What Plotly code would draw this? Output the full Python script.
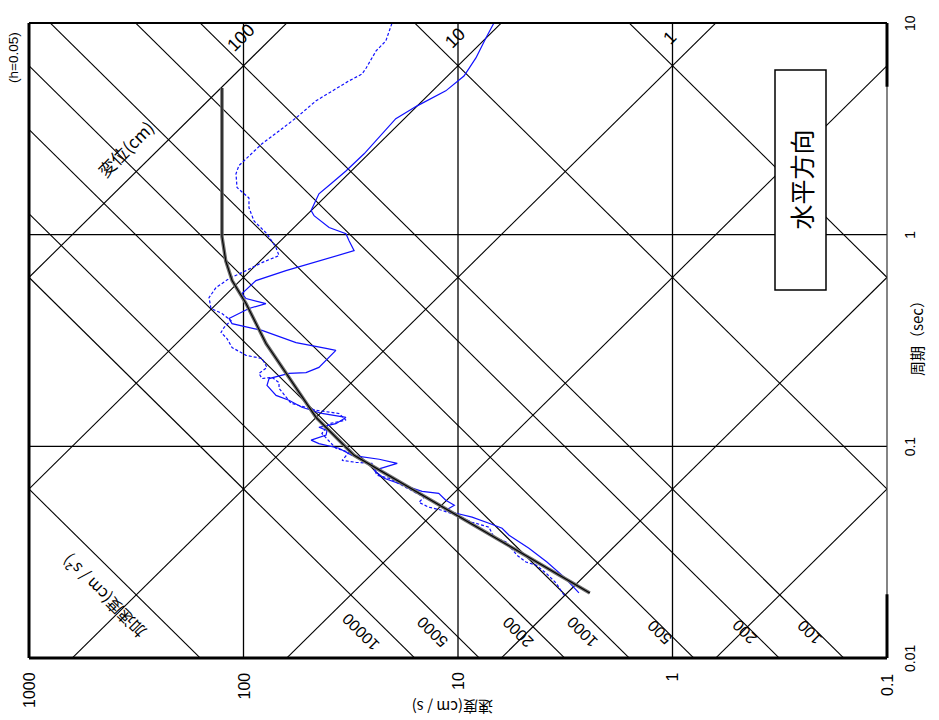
import numpy as np
import plotly.graph_objects as go

# ---------------- data ----------------
velocity_ticks = [1000, 100, 10, 1, 0.1]
velocity_tick_labels = ["1000", "100", "10", "1", "0.1"]
velocity_grid = [100, 10, 1]
period_ticks = [10, 1, 0.1, 0.01]
period_tick_labels = ["10", "1", "0.1", "0.01"]
period_grid = [1, 0.1]

displacement_lines = [0.001, 0.01, 0.1, 1, 10, 100]          # cm
displacement_labels = [100, 10, 1]
acceleration_lines = [1, 10, 100, 200, 500, 1000, 2000, 5000, 10000, 100000]  # cm/s2
acceleration_labels = [10000, 5000, 2000, 1000, 500, 200, 100]

# design spectrum (period s, velocity cm/s)
design_T = [0.0203, 0.0907, 0.137, 0.211, 0.306, 0.473, 0.607, 0.753, 0.98, 4.93]
design_V = [2.43, 30.5, 45.9, 61.4, 78.5, 97.3, 113, 121, 126, 126]

# observed spectrum, solid
solid_T = [0.0203, 0.0241, 0.0284, 0.0330, 0.0380, 0.0410, 0.0433, 0.0463, 0.0483, 0.0499,
           0.0527, 0.0556, 0.0600, 0.0613, 0.0655, 0.0707, 0.0770, 0.0831, 0.0869, 0.0907,
           0.0979, 0.103, 0.107, 0.113, 0.119, 0.123, 0.128, 0.137, 0.143, 0.153,
           0.165, 0.174, 0.194, 0.209, 0.221, 0.223, 0.236, 0.284, 0.290, 0.309,
           0.353, 0.380, 0.402, 0.448, 0.472, 0.499, 0.527, 0.607, 0.676, 0.754,
           0.840, 0.937, 1.01, 1.08, 1.23, 1.30, 1.56, 1.74, 2.00, 2.41,
           2.93, 3.53, 4.06, 4.78, 5.62, 6.84, 8.50, 10.0]
solid_V = [2.73, 3.20, 3.85, 4.67, 5.78, 6.23, 7.17, 8.60, 10.2, 11.4,
           10.4, 11.4, 12.3, 14.7, 17.9, 22.1, 24.6, 19.2, 23.3, 31.2,
           35.9, 44.5, 48.4, 41.2, 40.8, 44.5, 37.1, 33.3, 43.1, 53.4,
           61.4, 70.5, 77.7, 76.0, 61.4, 51.1, 44.5, 37.1, 41.2, 56.9,
           82.0, 113.1, 116.8, 94.3, 78.6, 97.3, 101.6, 87.5, 63.4, 44.5,
           30.5, 32.2, 33.3, 39.9, 46.9, 48.4, 44.5, 39.1, 33.3, 27.4,
           22.9, 19.5, 15.5, 11.4, 9.38, 8.25, 7.41, 6.80]

# observed spectrum, dashed
dashed_T = [0.0198, 0.0226, 0.0252, 0.0275, 0.0284, 0.0306, 0.0353, 0.0372, 0.0415, 0.0438,
            0.0473, 0.0499, 0.0516, 0.0544, 0.0575, 0.0641, 0.0707, 0.0730, 0.0831, 0.0840,
            0.0859, 0.0937, 0.0979, 0.115, 0.128, 0.133, 0.143, 0.148, 0.160, 0.188,
            0.200, 0.212, 0.209, 0.221, 0.236, 0.260, 0.269, 0.293, 0.323, 0.345,
            0.364, 0.393, 0.424, 0.448, 0.504, 0.562, 0.620, 0.676, 0.738, 0.796,
            0.868, 1.01, 1.16, 1.34, 1.49, 1.67, 1.94, 2.12, 2.44, 2.69,
            3.09, 3.56, 4.29, 4.78, 5.33, 5.74, 6.13, 7.38, 8.23, 10.0]
dashed_V = [3.20, 3.49, 3.89, 4.33, 4.82, 5.31, 5.97, 6.80, 7.17, 8.60,
            10.2, 11.9, 13.7, 15.2, 14.4, 17.5, 21.0, 23.9, 25.2, 29.9,
            34.7, 32.2, 37.1, 43.1, 39.9, 33.3, 35.9, 45.9, 60.1, 68.3,
            68.3, 73.6, 82.0, 84.7, 77.7, 82.0, 97.3, 113.1, 119.4, 127.3,
            123.3, 114.4, 125.9, 141.8, 144.8, 134.4, 116.8, 97.3, 82.0, 68.3,
            70.5, 77.7, 89.3, 94.3, 94.3, 107.2, 108.4, 105.0, 91.3, 82.0,
            68.3, 56.9, 45.9, 38.7, 32.2, 28.0, 26.8, 24.1, 21.7, 20.3]

# ---------------- figure ----------------
FONT = "Liberation Sans, Arial, Noto Sans CJK JP, sans-serif"
JFONT = "Noto Sans CJK JP, Liberation Sans, sans-serif"
TWO_PI = 2 * np.pi

fig = go.Figure()
t_span = np.array([1e-3, 1e2])

for v in velocity_grid:
    fig.add_trace(go.Scatter(x=[v, v], y=[0.01, 10], mode="lines",
                             line=dict(color="black", width=1.3), hoverinfo="skip"))
for t in period_grid:
    fig.add_trace(go.Scatter(x=[1000, 0.1], y=[t, t], mode="lines",
                             line=dict(color="black", width=1.3), hoverinfo="skip"))
for d in displacement_lines:
    fig.add_trace(go.Scatter(x=TWO_PI * d / t_span, y=t_span, mode="lines",
                             line=dict(color="black", width=1.1), hoverinfo="skip"))
for a in acceleration_lines:
    fig.add_trace(go.Scatter(x=a * t_span / TWO_PI, y=t_span, mode="lines",
                             line=dict(color="black", width=1.1), hoverinfo="skip"))

fig.add_trace(go.Scatter(x=dashed_V, y=dashed_T, mode="lines",
                         line=dict(color="#1010ff", width=1.2, dash="3px,2px")))
fig.add_trace(go.Scatter(x=solid_V, y=solid_T, mode="lines",
                         line=dict(color="#1010ff", width=1.2)))
fig.add_trace(go.Scatter(x=design_V, y=design_T, mode="lines",
                         line=dict(color="#707070", width=3.5)))
fig.add_trace(go.Scatter(x=design_V, y=design_T, mode="lines",
                         line=dict(color="black", width=1.1)))

L, R, T, B = 29, 52, 23, 62
W, H = 939, 720
PW, PH = W - L - R, H - T - B


def px2paper_x(px):
    return (px - L) / PW


def px2paper_y(py):
    return (H - B - py) / PH


def note(**kw):
    base = dict(showarrow=False, xanchor="center", yanchor="middle")
    base.update(kw)
    return base


ann = []
# velocity tick labels (bottom)
vel_centers = [690, 686, 681, 677, 685]
for v, lab, yc in zip(velocity_ticks, velocity_tick_labels, vel_centers):
    ann.append(note(x=np.log10(v), xref="x", y=px2paper_y(yc), yref="paper",
                    text=lab, textangle=-90,
                    font=dict(family=FONT, size=16, color="black")))
# period tick labels (right)
for t, lab in zip(period_ticks, period_tick_labels):
    ann.append(note(x=px2paper_x(910), xref="paper", y=np.log10(t), yref="y",
                    text=lab, textangle=-90,
                    font=dict(family=FONT, size=14, color="black")))
# displacement labels (top)
for d in displacement_labels:
    ann.append(note(x=np.log10(d), xref="x", y=px2paper_y(38), yref="paper",
                    xshift=-3, text=str(d), textangle=-45,
                    font=dict(family=FONT, size=18, color="black")))
# acceleration labels (bottom)
t_lab = 0.0133
shift_by_len = {3: -7.5, 4: -20, 5: -27}
for a in acceleration_labels:
    s = str(a)
    ann.append(note(x=np.log10(a * t_lab / TWO_PI), xref="x", y=np.log10(t_lab), yref="y",
                    xshift=shift_by_len[len(s)], text=s, textangle=-135,
                    font=dict(family=FONT, size=16, color="black")))

ann += [
    note(x=px2paper_x(14), y=px2paper_y(57), xref="paper", yref="paper",
         text="(h=0.05)", textangle=-90,
         font=dict(family=FONT, size=13.5, color="black")),
    note(x=px2paper_x(916), y=px2paper_y(335), xref="paper", yref="paper",
         text="周期（sec）", textangle=-90,
         font=dict(family=JFONT, size=15, color="black")),
    note(x=px2paper_x(453), y=px2paper_y(708), xref="paper", yref="paper",
         text="速度(cm / s)", textangle=180,
         font=dict(family=JFONT, size=15, color="black")),
    note(x=px2paper_x(125), y=px2paper_y(148), xref="paper", yref="paper",
         text="変位(cm)", textangle=-45,
         font=dict(family=JFONT, size=17, color="black")),
    note(x=px2paper_x(104), y=px2paper_y(597), xref="paper", yref="paper",
         text="加速度(cm / s²)", textangle=-135,
         font=dict(family=JFONT, size=16, color="black")),
    note(x=px2paper_x(800.5), y=px2paper_y(180), xref="paper", yref="paper",
         text="水平方向", textangle=-90,
         font=dict(family=JFONT, size=25, color="black")),
]

py5 = (np.log10(5) + 2) / 3
py002 = (np.log10(0.02) + 2) / 3
shapes = [
    dict(type="rect", xref="paper", yref="paper",
         x0=px2paper_x(775), x1=px2paper_x(826), y0=px2paper_y(290), y1=px2paper_y(70),
         fillcolor="white", line=dict(color="black", width=1.5), layer="above"),
    dict(type="line", xref="paper", yref="paper", x0=0, x1=0, y0=0, y1=1,
         line=dict(color="black", width=3)),
    dict(type="line", xref="paper", yref="paper", x0=0, x1=1, y0=0, y1=0,
         line=dict(color="black", width=3)),
    dict(type="line", xref="paper", yref="paper", x0=0, x1=1, y0=1, y1=1,
         line=dict(color="black", width=2)),
    dict(type="line", xref="paper", yref="paper", x0=1, x1=1, y0=0, y1=1,
         line=dict(color="#333333", width=1.2)),
    dict(type="line", xref="paper", yref="paper", x0=1, x1=1, y0=py5, y1=1,
         line=dict(color="black", width=3)),
    dict(type="line", xref="paper", yref="paper", x0=1, x1=1, y0=0, y1=py002,
         line=dict(color="black", width=3)),
]

fig.update_layout(
    width=W, height=H,
    margin=dict(l=L, r=R, t=T, b=B, pad=0),
    paper_bgcolor="white", plot_bgcolor="white",
    showlegend=False,
    xaxis=dict(type="log", range=[3, -1], showgrid=False, zeroline=False,
               showticklabels=False, ticks="", showline=False),
    yaxis=dict(type="log", range=[-2, 1], showgrid=False, zeroline=False,
               showticklabels=False, ticks="", showline=False),
    annotations=ann,
    shapes=shapes,
)

fig.write_html("out.html")
